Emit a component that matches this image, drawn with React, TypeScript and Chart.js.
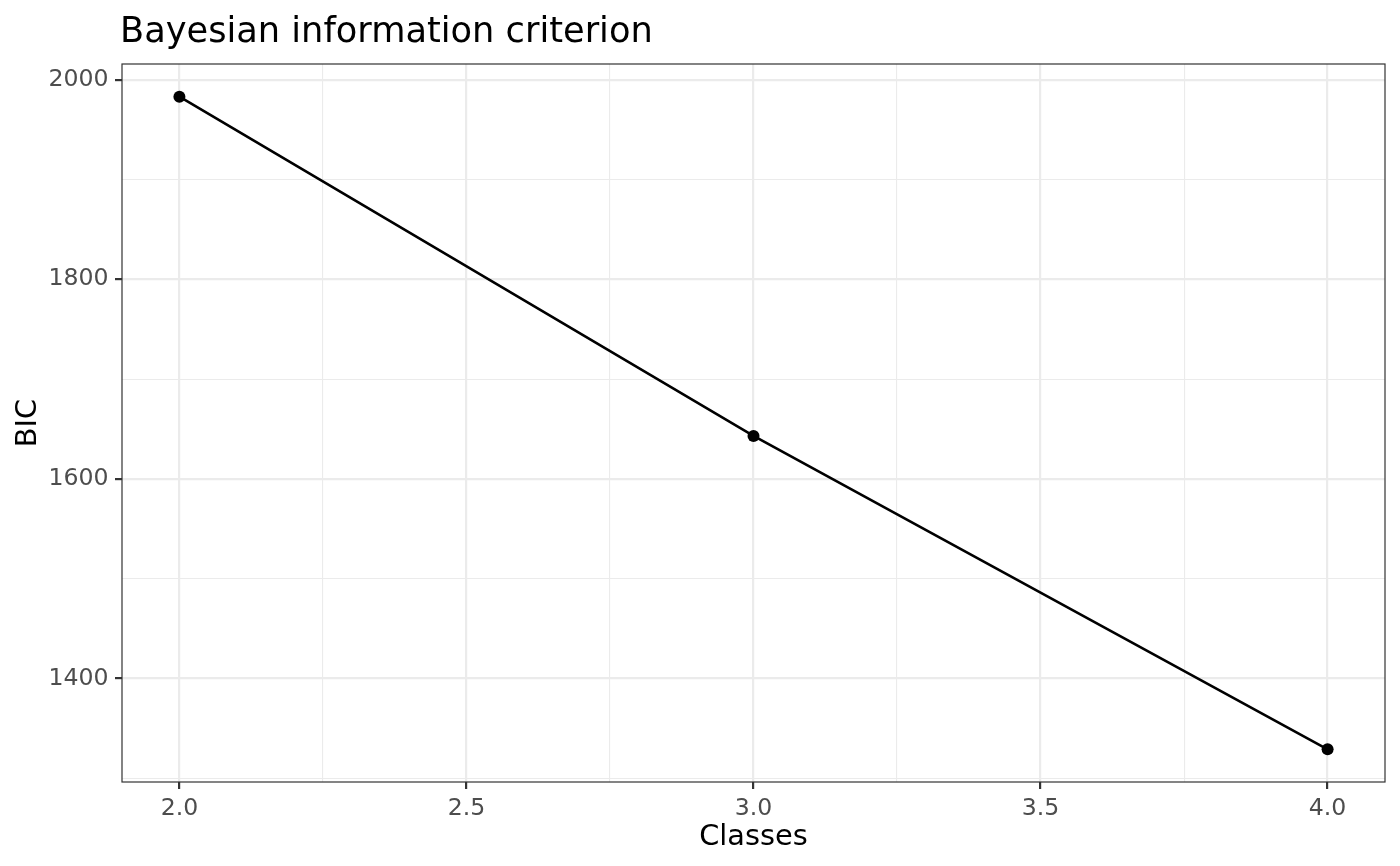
import { useEffect, useRef } from 'react';
import { Chart, registerables } from 'chart.js';

Chart.register(...registerables);

const classes = [2, 3, 4];
const bicValues = [1983, 1643, 1329];

const xTicks = [2, 2.25, 2.5, 2.75, 3, 3.25, 3.5, 3.75, 4];
const xMajor = [2, 2.5, 3, 3.5, 4];
const yTicks = [1300, 1400, 1500, 1600, 1700, 1800, 1900, 2000];
const yMajor = [1400, 1600, 1800, 2000];

const chartTitle = 'Bayesian information criterion';
const xTitle = 'Classes';
const yTitle = 'BIC';

const FONT = "'DejaVu Sans', sans-serif";

// ggplot-style 5% expansion of the data range
const expand = (vals: number[]) => {
    const lo = Math.min(...vals);
    const hi = Math.max(...vals);
    const pad = (hi - lo) * 0.05;
    return [lo - pad, hi + pad];
};

const panelPlugin = {
    id: 'panel',
    afterDraw: (chart: any) => {
        const { ctx, chartArea } = chart;
        ctx.save();
        // panel border
        ctx.strokeStyle = '#333333';
        ctx.lineWidth = 1.2;
        ctx.strokeRect(chartArea.left, chartArea.top, chartArea.right - chartArea.left, chartArea.bottom - chartArea.top);
        // plot title
        ctx.fillStyle = '#000000';
        ctx.font = `35.2px ${FONT}`;
        ctx.textAlign = 'left';
        ctx.textBaseline = 'alphabetic';
        ctx.fillText(chartTitle, 120, 41.7);
        ctx.restore();
    },
};

export default function App() {
    const chartRef = useRef<HTMLCanvasElement>(null);

    useEffect(() => {
        const ctx = chartRef.current?.getContext('2d');
        if (!ctx) return;

        const [xMin, xMax] = expand(classes);
        const [yMin, yMax] = expand(bicValues);

        const isXMajor = (v: number) => xMajor.some((m) => Math.abs(m - v) < 1e-9);
        const isYMajor = (v: number) => yMajor.includes(v);

        const chart = new Chart(ctx, {
            type: 'line',
            data: {
                datasets: [
                    {
                        data: classes.map((c, i) => ({ x: c, y: bicValues[i] })),
                        borderColor: '#000000',
                        borderWidth: 2.6,
                        pointRadius: 6,
                        pointBackgroundColor: '#000000',
                        pointBorderWidth: 0,
                        tension: 0,
                    },
                ],
            },
            options: {
                responsive: false,
                animation: false,
                layout: { padding: { left: 0, top: 64, right: 15, bottom: 0 } },
                plugins: {
                    legend: { display: false },
                    tooltip: { enabled: false },
                },
                scales: {
                    x: {
                        type: 'linear',
                        min: xMin,
                        max: xMax,
                        afterBuildTicks: (scale: any) => {
                            scale.ticks = xTicks.map((v) => ({ value: v }));
                        },
                        afterFit: (scale: any) => {
                            scale.height = 84;
                        },
                        border: { display: false },
                        grid: {
                            color: '#EBEBEB',
                            lineWidth: (c: any) => (isXMajor(c.tick.value) ? 2.2 : 1.1),
                            tickColor: (c: any) => (isXMajor(c.tick.value) ? '#333333' : 'rgba(0,0,0,0)'),
                            tickWidth: 2.2,
                            tickLength: 7,
                        },
                        ticks: {
                            color: '#4D4D4D',
                            font: { family: FONT, size: 23.6 },
                            padding: 5.5,
                            maxRotation: 0,
                            autoSkip: false,
                            callback: (v: any) => (isXMajor(Number(v)) ? Number(v).toFixed(1) : ''),
                        },
                        title: {
                            display: true,
                            text: xTitle,
                            color: '#000000',
                            font: { family: FONT, size: 28.8 },
                            padding: { top: 0, bottom: 11.2 },
                        },
                    },
                    y: {
                        type: 'linear',
                        min: yMin,
                        max: yMax,
                        afterBuildTicks: (scale: any) => {
                            scale.ticks = yTicks.map((v) => ({ value: v }));
                        },
                        afterFit: (scale: any) => {
                            scale.width = 122;
                        },
                        border: { display: false },
                        grid: {
                            color: '#EBEBEB',
                            lineWidth: (c: any) => (isYMajor(c.tick.value) ? 2.2 : 1.1),
                            tickColor: (c: any) => (isYMajor(c.tick.value) ? '#333333' : 'rgba(0,0,0,0)'),
                            tickWidth: 2.2,
                            tickLength: 7,
                        },
                        ticks: {
                            color: '#4D4D4D',
                            font: { family: FONT, size: 23.6 },
                            padding: 6.5,
                            autoSkip: false,
                            callback: (v: any) => (isYMajor(Number(v)) ? String(v) : ''),
                        },
                        title: {
                            display: true,
                            text: yTitle,
                            color: '#000000',
                            font: { family: FONT, size: 28.8 },
                            padding: { top: 11.2, bottom: 0 },
                        },
                    },
                },
            },
            plugins: [panelPlugin],
        });

        return () => {
            chart.destroy();
        };
    }, []);

    return (
        <div style={{ position: 'absolute', left: 0, top: 0, width: 1400, height: 866, background: '#FFFFFF' }}>
            <canvas ref={chartRef} width={1400} height={866} />
        </div>
    );
}
